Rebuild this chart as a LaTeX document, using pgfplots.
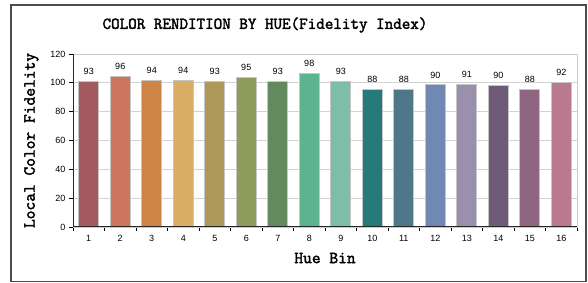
\documentclass[border=0pt]{standalone}
\usepackage{fontspec}
\setmainfont{Liberation Sans}
\newfontfamily\courb[FakeBold=2.2]{Latin Modern Mono}
\usepackage{pgfplots}
\pgfplotsset{compat=1.18}
\definecolor{c1}{HTML}{A25A60}
\definecolor{c2}{HTML}{CE755E}
\definecolor{c3}{HTML}{CE8446}
\definecolor{c4}{HTML}{D9AD65}
\definecolor{c5}{HTML}{AD9A5A}
\definecolor{c6}{HTML}{8F9C5E}
\definecolor{c7}{HTML}{638A5E}
\definecolor{c8}{HTML}{5EB38F}
\definecolor{c9}{HTML}{7EBDA8}
\definecolor{c10}{HTML}{267A7A}
\definecolor{c11}{HTML}{4F7689}
\definecolor{c12}{HTML}{6F89B3}
\definecolor{c13}{HTML}{9A8FAD}
\definecolor{c14}{HTML}{6F5A78}
\definecolor{c15}{HTML}{8F6580}
\definecolor{c16}{HTML}{BA7A8D}
\begin{document}
\begin{tikzpicture}[x=1pt,y=1pt]
\path (0,0) rectangle (588,283);
\draw[line width=1.5pt, black!70] (11,1.5) rectangle (586,278);
\node[font=\courb\fontsize{16.6}{18}\selectfont] at (265,258) {COLOR RENDITION BY HUE(Fidelity Index)};
\begin{axis}[at={(73pt,56pt)}, anchor=south west, scale only axis,
  width=504pt, height=173pt,
  xmin=0.5, xmax=16.5, ymin=0, ymax=120,
  ytick={0,20,...,120},
  xtick={0.5,1.5,...,16.5}, xticklabels={},
  extra x ticks={1,...,16},
  extra x tick style={major tick length=0pt, grid=none, tick label style={yshift=-5pt}},
  tick pos=left, tick align=outside,
  major tick length=4pt,
  tick style={black, line width=0.8pt},
  ymajorgrids, grid style={gray!35, line width=0.8pt},
  axis line style={gray!40, line width=0.8pt},
  ybar, bar width=20pt, bar shift=0pt,
  point meta=explicit, nodes near coords,
  every node near coord/.append style={font=\fontsize{9}{10}\selectfont, black, yshift=3pt},
  tick label style={font=\fontsize{9}{10}\selectfont},
  /pgf/number format/assume math mode=true,
  xlabel={Hue Bin}, ylabel={Local Color Fidelity},
  label style={font=\courb\fontsize{17}{19}\selectfont},
  xlabel style={yshift=0pt},
  ylabel style={yshift=5pt},
]
\addplot[fill=c1, draw=gray!45, line width=0.8pt] coordinates {(1,101.2) [93]};
\addplot[fill=c2, draw=gray!45, line width=0.8pt] coordinates {(2,104.4) [96]};
\addplot[fill=c3, draw=gray!45, line width=0.8pt] coordinates {(3,101.9) [94]};
\addplot[fill=c4, draw=gray!45, line width=0.8pt] coordinates {(4,102.0) [94]};
\addplot[fill=c5, draw=gray!45, line width=0.8pt] coordinates {(5,101.2) [93]};
\addplot[fill=c6, draw=gray!45, line width=0.8pt] coordinates {(6,103.5) [95]};
\addplot[fill=c7, draw=gray!45, line width=0.8pt] coordinates {(7,101.0) [93]};
\addplot[fill=c8, draw=gray!45, line width=0.8pt] coordinates {(8,106.5) [98]};
\addplot[fill=c9, draw=gray!45, line width=0.8pt] coordinates {(9,101.0) [93]};
\addplot[fill=c10, draw=gray!45, line width=0.8pt] coordinates {(10,95.6) [88]};
\addplot[fill=c11, draw=gray!45, line width=0.8pt] coordinates {(11,95.6) [88]};
\addplot[fill=c12, draw=gray!45, line width=0.8pt] coordinates {(12,98.6) [90]};
\addplot[fill=c13, draw=gray!45, line width=0.8pt] coordinates {(13,99.1) [91]};
\addplot[fill=c14, draw=gray!45, line width=0.8pt] coordinates {(14,98.4) [90]};
\addplot[fill=c15, draw=gray!45, line width=0.8pt] coordinates {(15,95.6) [88]};
\addplot[fill=c16, draw=gray!45, line width=0.8pt] coordinates {(16,100.2) [92]};
\draw[black!85, line width=1pt] (rel axis cs:0,1) -- (rel axis cs:0,0) -- (rel axis cs:1,0);
\end{axis}
\end{tikzpicture}
\end{document}
